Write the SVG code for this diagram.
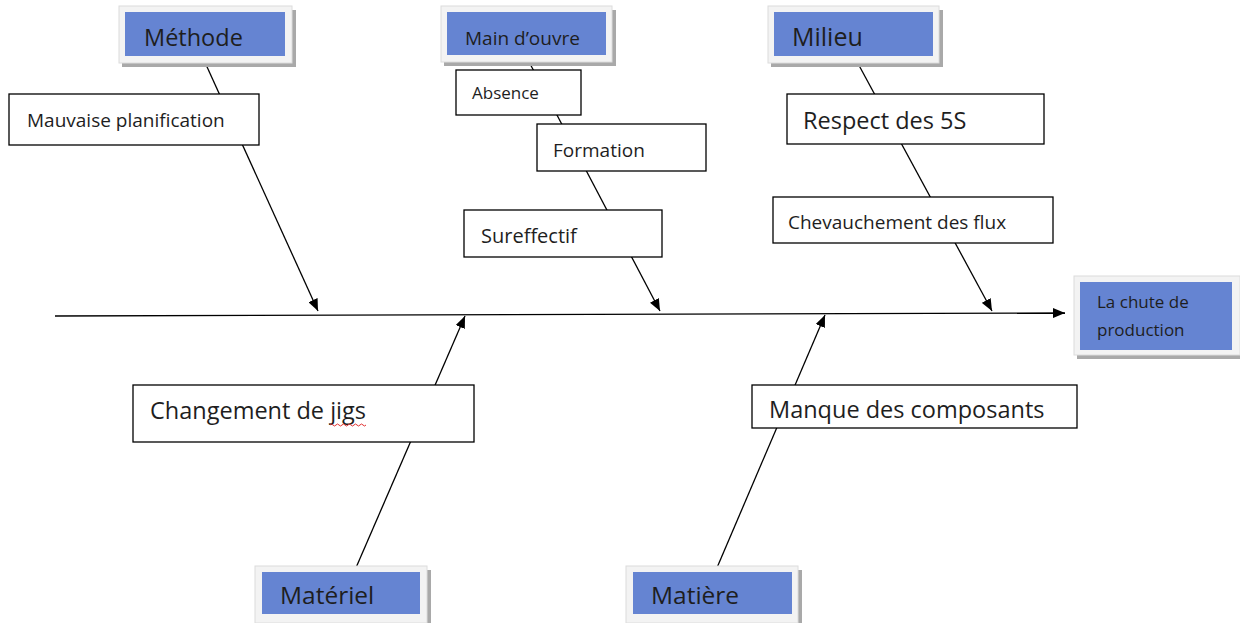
<svg xmlns="http://www.w3.org/2000/svg" width="1240" height="623" viewBox="0 0 1240 623">
  <defs>
    <marker id="arrow" viewBox="0 0 12 10" refX="12" refY="5" markerWidth="12" markerHeight="10" markerUnits="userSpaceOnUse" orient="auto">
      <path d="M0,0 L12,5 L0,10 Z" fill="#000"/>
    </marker>
  </defs>
  <style>
    text { font-family: "Open Sans", "Liberation Sans", sans-serif; fill: #1e1e1e; }
    .frame { fill: #f3f3f3; stroke: #dcdcdc; stroke-width: 1; }
    .shadow { fill: #a9a9a9; }
    .cat { fill: #6584d2; }
    .cause { fill: #fff; stroke: #000; stroke-width: 1.3; }
    .bone { stroke: #000; stroke-width: 1.3; fill: none; }
    .big { font-size: 23.5px; }
    .mid { font-size: 19px; }
    .small { font-size: 17px; }
  </style>
  <rect width="1240" height="623" fill="#fff"/>

  <!-- connectors: spine and branches (drawn first, boxes sit on top) -->
  <g id="connectors">
    <line class="bone" x1="55" y1="316" x2="1065" y2="313" marker-end="url(#arrow)"/>
    <line class="bone" x1="203" y1="58" x2="318" y2="311" marker-end="url(#arrow)"/>
    <line class="bone" x1="527" y1="58" x2="660" y2="311" marker-end="url(#arrow)"/>
    <line class="bone" x1="855" y1="58" x2="992" y2="311" marker-end="url(#arrow)"/>
    <line class="bone" x1="355" y1="570" x2="465" y2="316" marker-end="url(#arrow)"/>
    <line class="bone" x1="716" y1="570" x2="825" y2="315" marker-end="url(#arrow)"/>
  </g>

  <!-- category headers -->
  <g id="methode">
    <rect class="shadow" x="122" y="10" width="174" height="57"/>
    <rect class="frame" x="119" y="6" width="173" height="57"/>
    <rect class="cat" x="125" y="12" width="160" height="44"/>
    <text class="big" x="144" y="46">Méthode</text>
  </g>
  <g id="main-oeuvre">
    <rect class="shadow" x="444" y="10" width="172" height="56"/>
    <rect class="frame" x="441" y="6" width="171" height="56"/>
    <rect class="cat" x="447" y="12" width="159" height="43"/>
    <text class="mid" x="465" y="45">Main d’ouvre</text>
  </g>
  <g id="milieu">
    <rect class="shadow" x="771" y="10" width="172" height="57"/>
    <rect class="frame" x="768" y="6" width="171" height="57"/>
    <rect class="cat" x="774" y="12" width="159" height="44"/>
    <text class="big" x="792" y="46" style="font-size:25px">Milieu</text>
  </g>
  <g id="chute">
    <rect class="shadow" x="1077" y="280" width="163" height="79"/>
    <rect class="frame" x="1074" y="276" width="166" height="79"/>
    <rect class="cat" x="1080" y="282" width="152" height="68"/>
    <text class="small" x="1097" y="308">La chute de</text>
    <text class="small" x="1097" y="336">production</text>
  </g>
  <g id="materiel">
    <rect class="shadow" x="258" y="570" width="173" height="53"/>
    <rect class="frame" x="255" y="566" width="172" height="57"/>
    <rect class="cat" x="262" y="572" width="158" height="42"/>
    <text class="big" x="280" y="604" style="font-size:24.5px">Matériel</text>
  </g>
  <g id="matiere">
    <rect class="shadow" x="629" y="570" width="173" height="53"/>
    <rect class="frame" x="626" y="566" width="172" height="57"/>
    <rect class="cat" x="633" y="572" width="159" height="42"/>
    <text class="big" x="651" y="604" style="font-size:24.5px">Matière</text>
  </g>

  <!-- cause boxes -->
  <g id="mauvaise-planification">
    <rect class="cause" x="9" y="94" width="250" height="51"/>
    <text class="mid" x="27" y="127">Mauvaise planification</text>
  </g>
  <g id="absence">
    <rect class="cause" x="456" y="70" width="125" height="45"/>
    <text class="small" x="472" y="99">Absence</text>
  </g>
  <g id="formation">
    <rect class="cause" x="537" y="124" width="169" height="47"/>
    <text class="mid" x="553" y="157">Formation</text>
  </g>
  <g id="sureffectif">
    <rect class="cause" x="464" y="210" width="198" height="47"/>
    <text class="mid" x="481" y="243" style="font-size:20px">Sureffectif</text>
  </g>
  <g id="respect-5s">
    <rect class="cause" x="787" y="94" width="257" height="50"/>
    <text class="big" x="803" y="129">Respect des 5S</text>
  </g>
  <g id="chevauchement">
    <rect class="cause" x="773" y="197" width="280" height="46"/>
    <text class="mid" x="788" y="229">Chevauchement des flux</text>
  </g>
  <g id="changement-jigs">
    <rect class="cause" x="133" y="385" width="341" height="57"/>
    <text class="big" x="150" y="419">Changement de jigs</text>
    <path d="M330,425 q1.5,-2 3,0 t3,0 t3,0 t3,0 t3,0 t3,0 t3,0 t3,0 t3,0 t3,0 t3,0 t3,0" fill="none" stroke="#e03030" stroke-width="1"/>
  </g>
  <g id="manque-composants">
    <rect class="cause" x="752" y="385" width="325" height="43"/>
    <text class="big" x="769" y="418">Manque des composants</text>
  </g>
</svg>
